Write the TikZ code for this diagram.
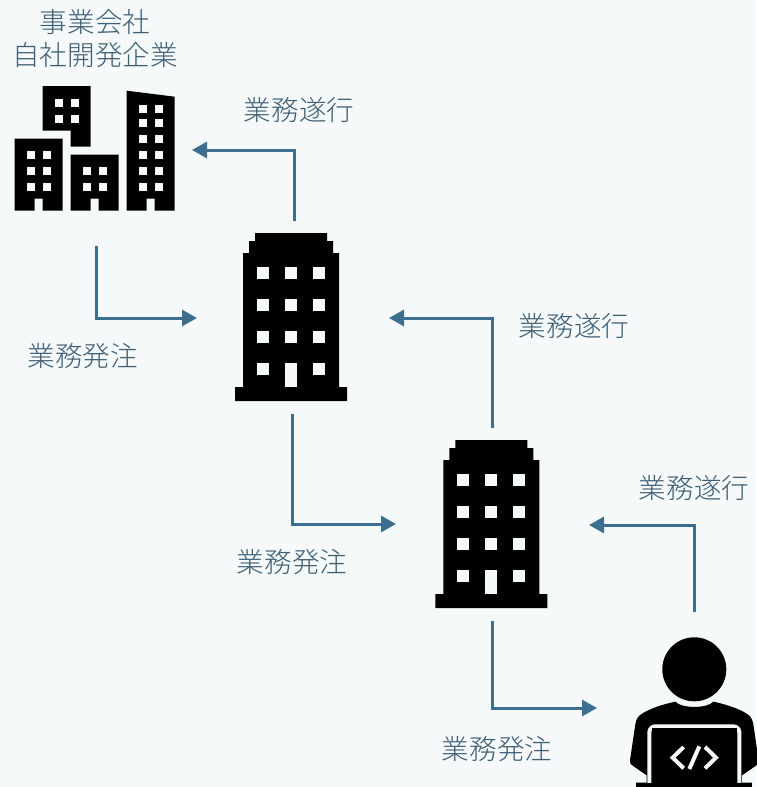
\documentclass[tikz,border=0pt]{standalone}
\usepackage{fontspec}
\setmainfont{Noto Sans CJK JP Light}
\definecolor{bgc}{HTML}{F5F9FA}
\definecolor{arrowc}{HTML}{3B6E8F}
\definecolor{textc}{HTML}{3F5F75}
\usetikzlibrary{arrows.meta}
\tikzset{
  flow/.style={draw=arrowc,line width=3pt,-{Triangle[length=15pt,width=16pt]}},
  lbl/.style={text=textc,font=\fontsize{27.6pt}{33pt}\selectfont,inner sep=0pt,align=center},
  ink/.style={fill=black,draw=none},
  hole/.style={fill=bgc,draw=none},
  tower/.pic={
    \fill[black] (255,233)--(327,233)--(327,241)--(333,241)--(333,253)--(339,253)--(339,387)--(347,387)--(347,401)--(235,401)--(235,387)--(243,387)--(243,253)--(249,253)--(249,241)--(255,241)--cycle;
    \foreach \wx in {257,285,313}{\foreach \wy in {267,299,331}{\fill[bgc] (\wx,\wy) rectangle ++(12,12);}}
    \fill[bgc] (257,363) rectangle ++(12,12);
    \fill[bgc] (313,363) rectangle ++(12,12);
    \fill[bgc] (285,363) rectangle (297,387);
  }
}
\begin{document}
\begin{tikzpicture}[x=1pt,y=-1pt]
\useasboundingbox (0,0) rectangle (756,787);
\fill[bgc] (0,0) rectangle (756,787);
% company group
\fill[ink] (42.7,86)--(90.7,86)--(90.7,146.7)--(70.7,146.7)--(70.7,130.7)--(42.7,130.7)--cycle;
\foreach \wx in {54.7,70.7}{\foreach \wy in {98.7,114.7}{\fill[hole] (\wx,\wy) rectangle ++(8,8);}}
\fill[ink] (14.7,138.7)--(62.7,138.7)--(62.7,210.7)--(42.7,210.7)--(42.7,198.7)--(34.7,198.7)--(34.7,210.7)--(14.7,210.7)--cycle;
\foreach \wx in {26.7,42.7}{\foreach \wy in {150.7,166.7,182.7}{\fill[hole] (\wx,\wy) rectangle ++(8,8);}}
\fill[ink] (70.7,154.7)--(118.7,154.7)--(118.7,210.7)--(98.7,210.7)--(98.7,198.7)--(90.7,198.7)--(90.7,210.7)--(70.7,210.7)--cycle;
\foreach \wx in {82.7,98.7}{\foreach \wy in {166.7,182.7}{\fill[hole] (\wx,\wy) rectangle ++(8,8);}}
\fill[ink] (126.7,90.7)--(174.7,96.7)--(174.7,210.7)--(154.7,210.7)--(154.7,198.7)--(146.7,198.7)--(146.7,210.7)--(126.7,210.7)--cycle;
\foreach \wx in {138.7,154.7}{\foreach \wy in {104.7,118.7,134.7,150.7,166.7,182.7}{\fill[hole] (\wx,\wy) rectangle ++(8,8);}}
% towers
\pic at (0,0) {tower};
\pic at (200.4,207) {tower};
% engineer
\fill[ink] (694.3,669.3) circle (32);
\begin{scope}[shift={(616,627)},x=0.3333pt,y=-0.3333pt]
\fill[ink] (178,224) .. controls (195,245) and (275,245) .. (292,224)
  .. controls (330,232) and (370,245) .. (395,262)
  .. controls (405,268) and (410,280) .. (412,292)
  -- (428,400) .. controls (429,408) and (425,412) .. (420,416)
  -- (378,445) -- (378,467) -- (408,467) -- (408,480) -- (60,480) -- (60,467) -- (92,467) -- (92,445)
  -- (50,416) .. controls (44,412) and (41,408) .. (42,400)
  -- (58,292) .. controls (60,280) and (65,268) .. (75,262)
  .. controls (100,245) and (140,232) .. (178,224) -- cycle;
\draw[draw=bgc,line width=4pt,fill=black,rounded corners=6pt] (100,468) -- (100,298) -- (370,298) -- (370,468);
\fill[ink] (107,304) rectangle (364,470);
\draw[bgc,line width=4pt,line join=miter] (203,360) -- (170,392) -- (203,424);
\draw[bgc,line width=4pt,line join=miter] (267,360) -- (300,392) -- (267,424);
\draw[bgc,line width=4pt] (250,358) -- (220,426);
\end{scope}
% connector ends
\coordinate (a1) at (294,221); \coordinate (a2) at (192,150); \coordinate (a1c) at (294,150);
\coordinate (b1) at (96,246); \coordinate (b2) at (197,318); \coordinate (b1c) at (96,318);
\coordinate (c1) at (292,414); \coordinate (c2) at (396,524); \coordinate (c1c) at (292,524);
\coordinate (d1) at (492,428); \coordinate (d2) at (389,318); \coordinate (d1c) at (492,318);
\coordinate (e1) at (694,612); \coordinate (e2) at (589,525); \coordinate (e1c) at (694,525);
\coordinate (f1) at (492,621); \coordinate (f2) at (597,708); \coordinate (f1c) at (492,708);
\draw[flow] (a1) -- (a1c) -- (a2);
\draw[flow] (b1) -- (b1c) -- (b2);
\draw[flow] (c1) -- (c1c) -- (c2);
\draw[flow] (d1) -- (d1c) -- (d2);
\draw[flow] (e1) -- (e1c) -- (e2);
\draw[flow] (f1) -- (f1c) -- (f2);
% labels
\node[lbl] (title) at (95,39) {事業会社\\自社開発企業};
\node[lbl] (l1) at (299,110) {業務遂行};
\node[lbl] (l2) at (83,356) {業務発注};
\node[lbl] (l3) at (574,326) {業務遂行};
\node[lbl] (l4) at (292,562) {業務発注};
\node[lbl] (l5) at (694,488) {業務遂行};
\node[lbl] (l6) at (497,749) {業務発注};
\end{tikzpicture}
\end{document}
